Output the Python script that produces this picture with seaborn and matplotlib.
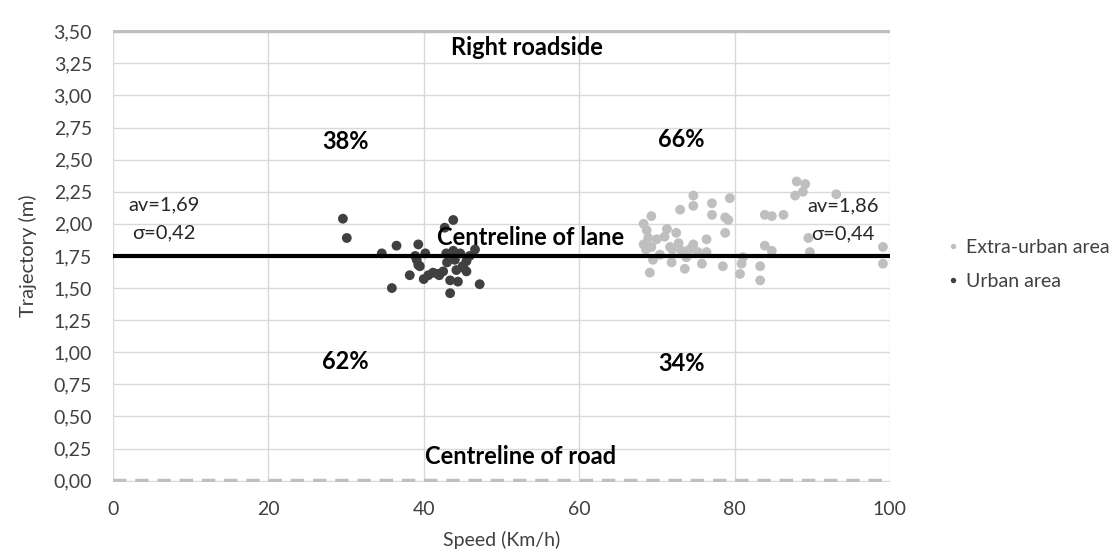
import matplotlib
matplotlib.use("Agg")
import matplotlib.pyplot as plt
from matplotlib.ticker import FuncFormatter, MultipleLocator
import numpy as np
import pandas as pd
import seaborn as sns

# Lateral trajectory vs speed, urban sample
urban_speed = [29.6, 30.1, 34.6, 36.5, 35.9, 39.3, 38.2, 40.2, 39.1, 39.5,
               40.6, 41.2, 42.5, 43.8, 42.7, 42.9, 43.8, 44.7, 45.5, 45.1,
               44.2, 43.4, 44.4, 43.4, 47.2, 46.6, 38.9, 45.5, 39.3, 41.8,
               44.0, 45.9, 42.0, 40.0, 43.0, 45.0]
urban_traj = [2.04, 1.89, 1.77, 1.83, 1.50, 1.84, 1.60, 1.77, 1.72, 1.67,
              1.60, 1.62, 1.63, 2.03, 1.97, 1.77, 1.79, 1.77, 1.71, 1.66,
              1.64, 1.56, 1.55, 1.46, 1.53, 1.80, 1.75, 1.63, 1.68, 1.61,
              1.72, 1.75, 1.60, 1.57, 1.70, 1.67]

# Extra-urban sample
extra_speed = [69.3, 68.3, 68.7, 68.9, 68.3, 69.3, 69.5, 69.1, 70.4, 71.3,
               71.7, 71.9, 72.5, 72.8, 73.0, 73.2, 73.6, 74.7, 74.7, 74.7,
               75.3, 75.8, 76.4, 76.4, 77.1, 77.1, 78.8, 79.4, 79.2, 78.8,
               78.5, 81.1, 80.9, 80.7, 83.3, 83.3, 83.9, 83.9, 88.0, 89.1,
               88.8, 87.8, 93.1, 84.8, 86.3, 84.8, 89.5, 89.7, 99.1, 99.1,
               70.0, 72.0, 73.8, 71.0, 74.2, 68.6]
extra_traj = [2.06, 2.00, 1.95, 1.89, 1.84, 1.82, 1.72, 1.62, 1.76, 1.96,
              1.82, 1.70, 1.93, 1.85, 2.11, 1.79, 1.65, 2.22, 2.14, 1.84,
              1.78, 1.69, 1.88, 1.78, 2.16, 2.07, 2.05, 2.20, 2.03, 1.93,
              1.67, 1.74, 1.69, 1.61, 1.67, 1.56, 2.07, 1.83, 2.33, 2.31,
              2.25, 2.22, 2.23, 2.06, 2.07, 1.79, 1.89, 1.78, 1.82, 1.69,
              1.88, 1.80, 1.74, 1.90, 1.80, 1.80]

series_names = ["Extra-urban area", "Urban area"]
series_colors = ["#bfbfbf", "#404040"]

lane_centre = 1.75
roadside = 3.50
road_centre = 0.00

region_labels = ["38%", "66%", "62%", "34%"]
stats_left = ["av=1,69", "σ=0,42"]
stats_right = ["av=1,86", "σ=0,44"]

df = pd.concat([
    pd.DataFrame({"Speed": extra_speed, "Trajectory": extra_traj, "Area": series_names[0]}),
    pd.DataFrame({"Speed": urban_speed, "Trajectory": urban_traj, "Area": series_names[1]}),
], ignore_index=True)

sns.set_theme(style="white")
plt.rcParams["font.family"] = ["Lato", "DejaVu Sans"]

fig = plt.figure(figsize=(11.18, 5.54), dpi=100)
ax = fig.add_axes([0.101, 0.130, 0.695, 0.816])

ax.set_xlim(0, 100)
ax.set_ylim(-0.01, 3.51)
ax.xaxis.set_major_locator(MultipleLocator(20))
ax.yaxis.set_major_locator(MultipleLocator(0.25))
ax.grid(True, color="#d9d9d9", linewidth=1.0)
ax.set_axisbelow(True)
for s in ax.spines.values():
    s.set_visible(False)

# Reference lines: right roadside, lane centreline, road centreline
ax.axhline(roadside, color="#bfbfbf", linewidth=3.2, zorder=1)
ax.axhline(road_centre, color="#bfbfbf", linewidth=3.2, linestyle=(0, (3, 2)), zorder=1)

sns.scatterplot(data=df, x="Speed", y="Trajectory", hue="Area",
                hue_order=series_names, palette=series_colors,
                s=50, linewidth=0, alpha=1.0, ax=ax, zorder=3)

ax.axhline(lane_centre, color="black", linewidth=3.0, zorder=4)

ax.yaxis.set_major_formatter(FuncFormatter(lambda v, p: f"{v:.2f}".replace(".", ",")))
ax.xaxis.set_major_formatter(FuncFormatter(lambda v, p: f"{v:.0f}"))
ax.tick_params(axis="both", labelsize=14, colors="#404040", length=0)
ax.tick_params(axis="y", pad=15)
ax.tick_params(axis="x", pad=14)
ax.set_xlabel("Speed (Km/h)", fontsize=14, color="#404040", labelpad=9)
ax.set_ylabel("Trajectory (m)", fontsize=14.5, color="#404040", labelpad=12)

bold = dict(fontsize=17, fontweight="bold", color="black", ha="center", va="center", zorder=5)
ax.text(53.3, 3.37, "Right roadside", **bold)
ax.text(53.7, 1.89, "Centreline of lane", **bold)
ax.text(52.4, 0.19, "Centreline of road", **bold)
ax.text(29.9, 2.64, region_labels[0], **bold)
ax.text(73.2, 2.66, region_labels[1], **bold)
ax.text(29.9, 0.93, region_labels[2], **bold)
ax.text(73.2, 0.91, region_labels[3], **bold)

norm = dict(fontsize=14.5, color="#262626", ha="center", va="center", zorder=5)
ax.text(6.6, 2.15, stats_left[0], **norm)
ax.text(6.6, 1.93, stats_left[1], **norm)
ax.text(94.0, 2.14, stats_right[0], **norm)
ax.text(94.0, 1.92, stats_right[1], **norm)

leg = ax.legend(loc="center left", bbox_to_anchor=(1.064, 0.481), frameon=False,
                fontsize=14, markerscale=0.55, handlelength=0.6,
                handletextpad=0.35, labelspacing=0.9, borderaxespad=0, title=None)
for t in leg.get_texts():
    t.set_color("#404040")

fig.savefig("out.png", dpi=100, facecolor="white")
